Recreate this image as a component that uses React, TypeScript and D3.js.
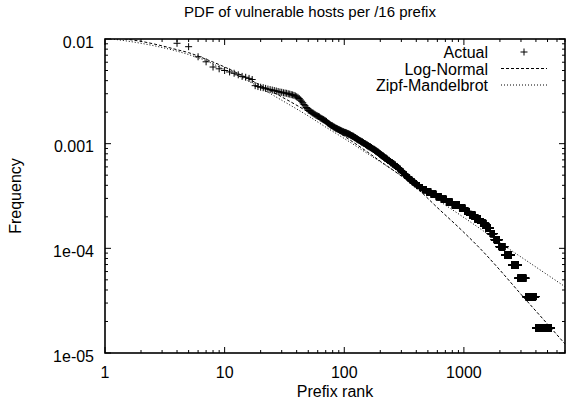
import React from "react";
import * as d3 from "d3";

const TITLE = "PDF of vulnerable hosts per /16 prefix";
const X_LABEL = "Prefix rank";
const Y_LABEL = "Frequency";
const X_TICKS = [1, 10, 100, 1000];
const X_TICK_LABELS = ["1", "10", "100", "1000"];
const Y_TICKS = [1e-5, 1e-4, 1e-3, 1e-2];
const Y_TICK_LABELS = ["1e-05", "1e-04", "0.001", "0.01"];
const LEGEND = ["Actual", "Log-Normal", "Zipf-Mandelbrot"];

// total number of vulnerable hosts (frequency = hosts / total)
const TOTAL_HOSTS = 57800;

// hosts in each of the top-ranked prefixes (rank 1, 2, 3, ...)
const headHosts = [
  983, 740, 624, 526, 488, 391, 350, 312, 300, 289,
  280, 272, 263, 254, 249, 243, 237, 207, 203, 200,
  198, 195, 192, 190, 188, 186, 184, 182, 180, 179,
  177, 176, 175, 173, 172, 170, 169, 167, 165, 162,
  160, 156, 151, 147, 142, 137, 133, 128, 125, 121,
  120, 118, 116, 114, 113, 111, 110, 108, 107, 106,
  105, 104, 102, 101, 100,
];

// last rank holding at least k hosts, for k = 1, 2, 3, ... (tail of the distribution)
const tailLastRank = [
  5395, 3990, 3289, 2837, 2500, 2197, 1970, 1790, 1660, 1526,
  1375, 1237, 1112, 1020, 917, 797, 712, 645, 585, 530,
  486, 451, 424, 402, 384, 368, 353, 340, 330, 320,
  310, 302, 293, 285, 277, 268, 260, 252, 244, 237,
  230, 224, 217, 212, 206, 201, 196, 192, 187, 182,
  178, 173, 169, 165, 160, 156, 152, 149, 145, 142,
  138, 135, 132, 129, 126, 124, 121, 119, 116, 113,
  111, 108, 105, 102, 99, 96, 94, 92, 90, 88,
  86, 84, 83, 81, 80, 79, 77, 76, 75, 74,
  73, 72, 71, 71, 70, 69, 68, 67, 66, 65,
];

const logNormalRank = [1, 1.5, 2, 3, 4, 5, 7, 10, 15, 20, 30, 50, 70, 100, 150, 200, 300, 400, 600, 1000, 1413, 2000, 3000, 5000, 7000];
const logNormalFreq = [
  0.011, 0.01, 0.0095, 0.0086, 0.0079, 0.0074, 0.0064, 0.0054, 0.0043, 0.0036,
  0.0028, 0.002, 0.00155, 0.00118, 0.00086, 0.00068, 0.00049, 0.00038, 0.000245, 0.000142,
  0.0000957, 0.000062, 0.0000364, 0.0000189, 0.0000122,
];

const zipfRank = [1, 2, 3, 5, 7, 10, 15, 20, 30, 50, 70, 100, 150, 200, 300, 500, 700, 1000, 1500, 2000, 3000, 5000, 7000];
const zipfFreq = [
  0.0102, 0.0091, 0.0083, 0.0071, 0.0062, 0.0051, 0.0041, 0.0034, 0.0026, 0.00184,
  0.00144, 0.00112, 0.00083, 0.000671, 0.000495, 0.000336, 0.000259, 0.000197, 0.000143, 0.000113,
  0.0000827, 0.0000558, 0.000043,
];

const W = 566;
const H = 409;
const L = 105;
const R = 565;
const T = 39;
const B = 353;
const FONT = "'Liberation Sans', Arial, Helvetica, sans-serif";

export default function App() {
  const x = d3.scaleLog().domain([1, 7000]).range([L, R]);
  const y = d3.scaleLog().domain([1e-5, 1e-2]).range([B, T]);

  // build (rank, frequency) points
  const actual: [number, number][] = [];
  headHosts.forEach((h, i) => actual.push([i + 1, h / TOTAL_HOSTS]));
  const K = tailLastRank.length;
  for (let k = K; k >= 1; k--) {
    const last = tailLastRank[k - 1];
    const first = k < K ? tailLastRank[k] + 1 : headHosts.length + 1;
    for (let r = first; r <= last; r++) actual.push([r, k / TOTAL_HOSTS]);
  }
  const [yLo, yHi] = y.domain();
  const [xLo, xHi] = x.domain();
  const ps = 3.5;
  let markerD = "";
  actual.forEach(([r, f]) => {
    if (f > yHi || f < yLo || r < xLo || r > xHi) return;
    const px = x(r);
    const py = y(f);
    markerD += `M${(px - ps).toFixed(2)},${py.toFixed(2)}h${2 * ps}M${px.toFixed(2)},${(py - ps).toFixed(2)}v${2 * ps}`;
  });

  const line = d3
    .line<[number, number]>()
    .x((d) => x(d[0]))
    .y((d) => y(d[1]))
    .curve(d3.curveMonotoneX);
  const lnPath = line(logNormalRank.map((r, i) => [r, logNormalFreq[i]])) || "";
  const zmPath = line(zipfRank.map((r, i) => [r, zipfFreq[i]])) || "";

  // ticks
  const xMajor = X_TICKS;
  const xMinor: number[] = [];
  for (let d = 1; d < 10000; d *= 10) for (let m = 2; m <= 9; m++) if (d * m <= xHi) xMinor.push(d * m);
  const yMinor: number[] = [];
  for (let d = 1e-5; d < 1e-2 * 0.99; d *= 10) for (let m = 2; m <= 9; m++) yMinor.push(d * m);

  const MAJ = 6;
  const MIN = 3;
  const tickD: string[] = [];
  xMajor.forEach((v) => {
    const px = x(v);
    tickD.push(`M${px},${B}v${-MAJ}M${px},${T}v${MAJ}`);
  });
  xMinor.forEach((v) => {
    const px = x(v);
    tickD.push(`M${px},${B}v${-MIN}M${px},${T}v${MIN}`);
  });
  Y_TICKS.forEach((v) => {
    const py = y(v);
    tickD.push(`M${L},${py}h${MAJ}M${R},${py}h${-MAJ}`);
  });
  yMinor.forEach((v) => {
    const py = y(v);
    tickD.push(`M${L},${py}h${MIN}M${R},${py}h${-MIN}`);
  });

  const legX = 488;
  const legBase = [58, 74.5, 91];
  const sampleX0 = 501;
  const sampleX1 = 547;

  return (
    <svg
      width={W}
      height={H}
      style={{ position: "fixed", left: 0, top: 0, background: "#fff" }}
      fontFamily={FONT}
    >
      <rect x={0} y={0} width={W} height={H} fill="#fff" />
      <defs>
        <clipPath id="plotclip">
          <rect x={L} y={T} width={R - L} height={B - T} />
        </clipPath>
      </defs>
      <text x={310} y={17} fontSize={15} textAnchor="middle" fill="#000">
        {TITLE}
      </text>

      <g clipPath="url(#plotclip)">
        <path d={markerD} stroke="#000" strokeWidth={1} fill="none" />
        <path d={lnPath} stroke="#000" strokeWidth={1} fill="none" strokeDasharray="3,2" />
        <path d={zmPath} stroke="#000" strokeWidth={1} fill="none" strokeDasharray="1,2" />
      </g>

      <path d={tickD.join("")} stroke="#000" strokeWidth={1} fill="none" />
      <rect x={L} y={T} width={R - L} height={B - T} fill="none" stroke="#000" strokeWidth={1.6} />

      {X_TICKS.map((v, i) => (
        <text key={"xt" + i} x={x(v)} y={377.5} fontSize={16} textAnchor="middle" fill="#000">
          {X_TICK_LABELS[i]}
        </text>
      ))}
      {Y_TICKS.map((v, i) => (
        <text key={"yt" + i} x={94} y={y(v) + 8.5} fontSize={16} textAnchor="end" fill="#000">
          {Y_TICK_LABELS[i]}
        </text>
      ))}

      <text x={(L + R) / 2} y={397} fontSize={16} textAnchor="middle" fill="#000">
        {X_LABEL}
      </text>
      <text
        transform={`translate(21,${(T + B) / 2}) rotate(-90)`}
        fontSize={16}
        textAnchor="middle"
        fill="#000"
      >
        {Y_LABEL}
      </text>

      {LEGEND.map((s, i) => (
        <text key={"lg" + i} x={legX} y={legBase[i]} fontSize={16} textAnchor="end" fill="#000">
          {s}
        </text>
      ))}
      <path
        d={`M${(sampleX0 + sampleX1) / 2 - ps},${legBase[0] - 6}h${2 * ps}M${(sampleX0 + sampleX1) / 2},${legBase[0] - 6 - ps}v${2 * ps}`}
        stroke="#000"
        strokeWidth={1}
      />
      <line x1={sampleX0} x2={sampleX1} y1={legBase[1] - 6} y2={legBase[1] - 6} stroke="#000" strokeWidth={1} strokeDasharray="3,2" />
      <line x1={sampleX0} x2={sampleX1} y1={legBase[2] - 6} y2={legBase[2] - 6} stroke="#000" strokeWidth={1} strokeDasharray="1,2" />
    </svg>
  );
}
